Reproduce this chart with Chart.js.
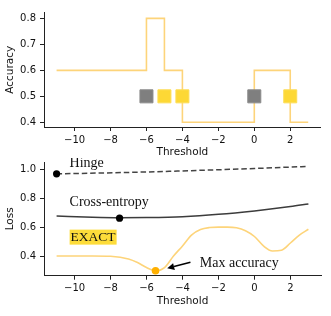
<!DOCTYPE html>
<html>
<head>
<meta charset="utf-8">
<script src="https://cdn.jsdelivr.net/npm/chart.js@4/dist/chart.umd.min.js"></script>
<style>
  html, body { margin: 0; padding: 0; background: #fff; }
  #wrap { position: relative; width: 331px; height: 316px; }
  .panel { position: absolute; left: 0; width: 331px; height: 158px; }
</style>
</head>
<body>
<div id="wrap">
  <div class="panel" style="top:0"><canvas id="accChart" width="331" height="158"></canvas></div>
  <div class="panel" style="top:158px"><canvas id="lossChart" width="331" height="158"></canvas></div>
</div>
<script>
// ---- data ----
const xTicks = [-10, -8, -6, -4, -2, 0, 2];
const accTicks = [0.4, 0.5, 0.6, 0.7, 0.8];
const lossTicks = [0.4, 0.6, 0.8, 1.0];

// accuracy step curve (value holds until the next threshold)
const stepX = [-11, -6, -5, -4, 0, 2, 3];
const stepY = [0.6, 0.8, 0.6, 0.4, 0.6, 0.4, 0.4];

// square markers on the threshold line
const grayX = [-6, 0];
const grayY = [0.5, 0.5];
const yellowX = [-5, -4, 2];
const yellowY = [0.5, 0.5, 0.5];

// loss curves
const hingeX = [-11, -7, -4.67, 0, 3];
const hingeY = [0.968, 0.978, 0.986, 1.005, 1.02];
const ceX = [-11, -9, -7.5, -6, -4, -2, 0, 2, 3];
const ceY = [0.676, 0.668, 0.665, 0.666, 0.672, 0.688, 0.712, 0.742, 0.76];
const exactX = [-11, -10, -9, -8, -7, -6.5, -6, -5.5, -5, -4.5, -4, -3.5, -3, -2.5, -2, -1.5, -1, -0.5, 0, 0.5, 1, 1.5, 2, 2.5, 3];
const exactY = [0.40, 0.40, 0.40, 0.398, 0.38, 0.355, 0.32, 0.297, 0.32, 0.40, 0.47, 0.545, 0.583, 0.597, 0.60, 0.60, 0.595, 0.575, 0.535, 0.47, 0.435, 0.44, 0.49, 0.545, 0.585];

// minimum markers
const hingeMin = [-11, 0.968];
const ceMin = [-7.5, 0.662];
const maxAcc = [-5.5, 0.298];

const pts = (xs, ys) => xs.map((x, i) => ({ x: x, y: ys[i] }));

const tickFont = { family: 'DejaVu Sans', size: 10 };
const titleFont = { family: 'DejaVu Sans', size: 10.5, lineHeight: 1 };
const serif = 'Liberation Serif, Times New Roman, serif';

function xAxis(height, titlePad) {
    return {
        type: 'linear',
        min: -11.7,
        max: 3.7,
        afterBuildTicks: s => { s.ticks = xTicks.map(v => ({ value: v })); },
        afterFit: s => { s.height = height; s.paddingLeft = 0; s.paddingRight = 0; },
        ticks: {
            color: '#111', font: tickFont, padding: 3, maxRotation: 0,
            callback: v => String(v).replace('-', '\u2212')
        },
        grid: { drawOnChartArea: false, drawTicks: true, tickLength: 4, color: '#222' },
        border: { display: true, color: '#222', width: 1 },
        title: { display: true, text: 'Threshold', color: '#111', font: titleFont, padding: { top: 0, bottom: titlePad } }
    };
}

function yAxis(min, max, list, label) {
    return {
        min: min,
        max: max,
        afterBuildTicks: s => { s.ticks = list.map(v => ({ value: v })); },
        afterFit: s => { s.width = 44; s.paddingTop = 0; s.paddingBottom = 0; },
        ticks: { color: '#111', font: tickFont, padding: 4, callback: v => v.toFixed(1) },
        grid: { drawOnChartArea: false, drawTicks: true, tickLength: 4, color: '#222' },
        border: { display: true, color: '#222', width: 1 },
        title: { display: true, text: label, color: '#111', font: titleFont, padding: { top: 5.5, bottom: 0 } }
    };
}

// top panel: accuracy vs threshold
new Chart(document.getElementById('accChart').getContext('2d'), {
    type: 'line',
    data: {
        datasets: [
            {
                label: 'gray', type: 'scatter', data: pts(grayX, grayY), order: 1,
                pointStyle: 'rect', pointRadius: 9.2, backgroundColor: '#7f7f7f', borderColor: '#8a8a8a', borderWidth: 1
            },
            {
                label: 'yellow', type: 'scatter', data: pts(yellowX, yellowY), order: 1,
                pointStyle: 'rect', pointRadius: 9.2, backgroundColor: '#fdd835', borderColor: '#fddd55', borderWidth: 1
            },
            {
                label: 'accuracy', data: pts(stepX, stepY), order: 2,
                stepped: true, borderColor: '#fdd47a', borderWidth: 1.6, pointRadius: 0, fill: false
            }
        ]
    },
    options: {
        responsive: false,
        animation: false,
        layout: { padding: { left: 0, right: 10, top: 12.7, bottom: 0 } },
        plugins: { legend: { display: false }, tooltip: { enabled: false } },
        scales: {
            x: xAxis(31, 0),
            y: yAxis(0.382, 0.822, accTicks, 'Accuracy')
        }
    }
});

// text labels for the loss panel (data coordinates)
const lossNotes = [
    { text: 'Hinge', x: -10.28, y: 1.012 },
    { text: 'Cross-entropy', x: -10.28, y: 0.745 },
    { text: 'EXACT', x: -10.22, y: 0.503, highlight: '#fddc3a' },
    { text: 'Max accuracy', x: -3.04, y: 0.324 }
];
const arrowFrom = [-3.56, 0.357];
const arrowTo = [-4.85, 0.315];

const notesPlugin = {
    id: 'notes',
    afterDatasetsDraw(chart) {
        const { ctx, scales: { x, y } } = chart;
        ctx.save();
        ctx.textBaseline = 'alphabetic';
        lossNotes.forEach(n => {
            const px = x.getPixelForValue(n.x);
            const py = y.getPixelForValue(n.y);
            ctx.font = (n.highlight ? '13.5px ' : '14px ') + serif;
            if (n.highlight) {
                const w = ctx.measureText(n.text).width;
                ctx.fillStyle = n.highlight;
                ctx.fillRect(px - 1, py - 11.5, w + 2, 15);
            }
            ctx.fillStyle = '#111';
            ctx.fillText(n.text, px, py);
        });
        // arrow towards the max-accuracy point
        const x0 = x.getPixelForValue(arrowFrom[0]), y0 = y.getPixelForValue(arrowFrom[1]);
        const x1 = x.getPixelForValue(arrowTo[0]), y1 = y.getPixelForValue(arrowTo[1]);
        const a = Math.atan2(y1 - y0, x1 - x0);
        const hl = 7, hw = 3.5;
        ctx.strokeStyle = '#000';
        ctx.fillStyle = '#000';
        ctx.lineWidth = 1.5;
        ctx.beginPath();
        ctx.moveTo(x0, y0);
        ctx.lineTo(x1 - hl * Math.cos(a), y1 - hl * Math.sin(a));
        ctx.stroke();
        ctx.beginPath();
        ctx.moveTo(x1, y1);
        ctx.lineTo(x1 - hl * Math.cos(a) + hw * Math.sin(a), y1 - hl * Math.sin(a) - hw * Math.cos(a));
        ctx.lineTo(x1 - hl * Math.cos(a) - hw * Math.sin(a), y1 - hl * Math.sin(a) + hw * Math.cos(a));
        ctx.closePath();
        ctx.fill();
        ctx.restore();
    }
};

// bottom panel: loss vs threshold
new Chart(document.getElementById('lossChart').getContext('2d'), {
    type: 'line',
    data: {
        datasets: [
            {
                label: 'hinge min', type: 'scatter', data: [{ x: hingeMin[0], y: hingeMin[1] }], order: 1,
                pointRadius: 3.6, backgroundColor: '#000', borderWidth: 0
            },
            {
                label: 'ce min', type: 'scatter', data: [{ x: ceMin[0], y: ceMin[1] }], order: 1,
                pointRadius: 3.6, backgroundColor: '#000', borderWidth: 0
            },
            {
                label: 'max accuracy', type: 'scatter', data: [{ x: maxAcc[0], y: maxAcc[1] }], order: 1,
                pointRadius: 3.8, backgroundColor: '#ffb000', borderWidth: 0
            },
            {
                label: 'Hinge', data: pts(hingeX, hingeY), order: 2,
                borderColor: '#444', borderWidth: 1.5, borderDash: [5.5, 2.9], pointRadius: 0,
                cubicInterpolationMode: 'monotone'
            },
            {
                label: 'Cross-entropy', data: pts(ceX, ceY), order: 2,
                borderColor: '#3c3c3c', borderWidth: 1.5, pointRadius: 0,
                cubicInterpolationMode: 'monotone'
            },
            {
                label: 'EXACT', data: pts(exactX, exactY), order: 2,
                borderColor: '#fdd47a', borderWidth: 1.6, pointRadius: 0,
                cubicInterpolationMode: 'monotone'
            }
        ]
    },
    options: {
        responsive: false,
        animation: false,
        layout: { padding: { left: 0, right: 10, top: 3, bottom: 0 } },
        plugins: { legend: { display: false }, tooltip: { enabled: false } },
        scales: {
            x: xAxis(40.3, 9),
            y: yAxis(0.264, 1.05, lossTicks, 'Loss')
        }
    },
    plugins: [notesPlugin]
});
</script>
</body>
</html>
